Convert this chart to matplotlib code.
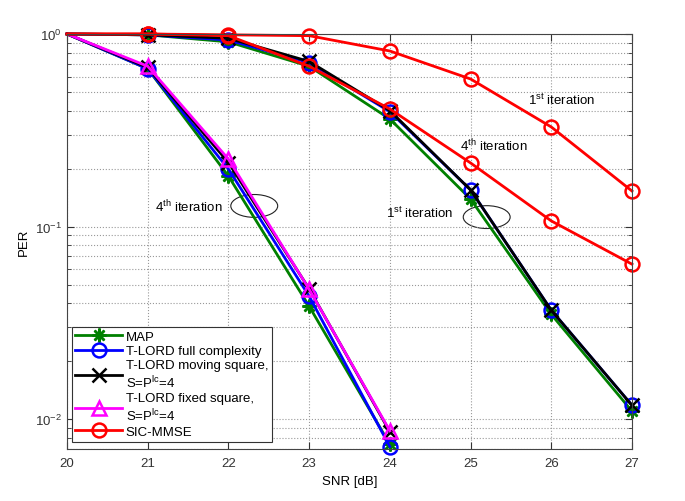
import numpy as np
import matplotlib.pyplot as plt
from matplotlib.patches import Ellipse
from matplotlib.ticker import LogLocator, NullFormatter

plt.rcParams['font.family'] = ['Liberation Sans', 'DejaVu Sans']
plt.rcParams['mathtext.fontset'] = 'custom'
plt.rcParams['mathtext.rm'] = 'Liberation Sans'
plt.rcParams['mathtext.it'] = 'Liberation Sans:italic'

snr = [20, 21, 22, 23, 24, 25, 26, 27]
snr4 = [20, 21, 22, 23, 24]

# 4th iteration
map4 = [1.0, 0.66, 0.183, 0.0386, 0.0074]
full4 = [1.0, 0.66, 0.199, 0.0435, 0.0072]
moving4 = [1.0, 0.67, 0.215, 0.0475, 0.0086]
fixed4 = [1.0, 0.68, 0.224, 0.0473, 0.0087]

# 1st iteration
map1 = [1.0, 0.99, 0.91, 0.68, 0.362, 0.139, 0.035, 0.011]
full1 = [1.0, 0.99, 0.93, 0.71, 0.395, 0.155, 0.0368, 0.0118]
moving1 = [1.0, 0.99, 0.95, 0.72, 0.40, 0.155, 0.0368, 0.0118]

sic1 = [1.0, 1.0, 0.99, 0.98, 0.816, 0.584, 0.329, 0.153]
sic4 = [1.0, 1.0, 0.98, 0.68, 0.408, 0.214, 0.107, 0.0638]

green = '#008000'
magenta = '#ff00ff'
star = (8, 2, 0)
ymin, ymax = 0.007, 1.0

fig = plt.figure(figsize=(6.85, 5.02), dpi=100)
ax = fig.add_axes([0.0978, 0.1036, 0.8248, 0.8267])

kw = dict(lw=2, ms=10, mew=1.8, markevery=(1, 1), clip_on=False)
ax.plot(snr4, map4, '-', marker=star, color=green, **kw)
ax.plot(snr4, full4, '-o', color='b', mfc='none', **kw)
ax.plot(snr4, moving4, '-x', color='k', **kw)
ax.plot(snr4, fixed4, '-^', color=magenta, mfc='none', **kw)

l1, = ax.plot(snr, map1, '-', marker=star, color=green, **kw)
l2, = ax.plot(snr, full1, '-o', color='b', mfc='none', **kw)
l3, = ax.plot(snr, moving1, '-x', color='k', **kw)
l5, = ax.plot(snr, sic1, '-o', color='r', mfc='none', **kw)
ax.plot(snr, sic4, '-o', color='r', mfc='none', **kw)
l4, = ax.plot([], [], '-^', color=magenta, mfc='none', lw=2, ms=10, mew=1.8)

ax.set_yscale('log')
ax.set_xlim(20, 27)
ax.set_ylim(ymin, ymax)
ax.set_xticks(snr)
ax.yaxis.set_minor_locator(LogLocator(base=10, subs=np.arange(2, 10)))
ax.yaxis.set_minor_formatter(NullFormatter())
ax.tick_params(which='both', direction='in', labelsize=9.5, colors='#333333',
               top=True, right=True)
ax.tick_params(which='major', length=5)
ax.tick_params(which='minor', length=3)
ax.tick_params(axis='x', pad=6)
ax.grid(True, which='both', ls=':', color='#999999', lw=0.8)
for s in ax.spines.values():
    s.set_color('#444444')

ax.set_xlabel('SNR [dB]', fontsize=9.5)
ax.set_ylabel('PER', fontsize=9.5)


def yfrac(v):
    return (np.log10(v) - np.log10(ymin)) / (np.log10(ymax) - np.log10(ymin))


ax.add_patch(Ellipse(((22.32 - 20) / 7, yfrac(0.128)), 0.083, 0.055,
                     transform=ax.transAxes, fill=False, ec='#222222', lw=0.8))
ax.text(21.09, 0.128, '4$^{\\rm th}$ iteration', fontsize=9.5, va='center')

ax.add_patch(Ellipse(((25.2 - 20) / 7, yfrac(0.112)), 0.083, 0.055,
                     transform=ax.transAxes, fill=False, ec='#222222', lw=0.8))
ax.text(23.95, 0.118, '1$^{\\rm st}$ iteration', fontsize=9.5, va='center')

ax.text(24.87, 0.265, '4$^{\\rm th}$ iteration', fontsize=9.5, va='center')
ax.text(25.71, 0.46, '1$^{\\rm st}$ iteration', fontsize=9.5, va='center')

leg = ax.legend([l1, l2, l3, l4, l5],
                ['MAP', 'T-LORD full complexity',
                 'T-LORD moving square,\nS=P$^{\\rm lc}$=4',
                 'T-LORD fixed square,\nS=P$^{\\rm lc}$=4', 'SIC-MMSE'],
                loc='lower left', bbox_to_anchor=(0.008, 0.017), fontsize=9.5,
                fancybox=False, edgecolor='#333333', framealpha=1,
                handlelength=3.5, handletextpad=0.3, labelspacing=0.15,
                borderpad=0.3, borderaxespad=0)
leg.get_frame().set_linewidth(0.8)

fig.savefig('out.png', dpi=100)
